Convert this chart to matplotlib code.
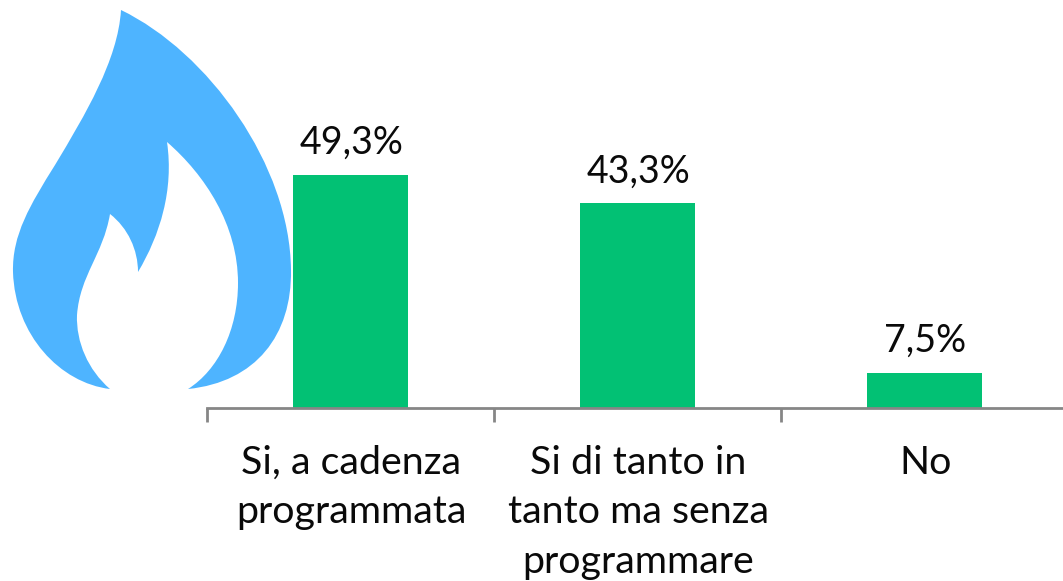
import matplotlib
matplotlib.use('Agg')
import matplotlib.pyplot as plt
from matplotlib.path import Path
from matplotlib.patches import PathPatch

categories = ['Si, a cadenza\nprogrammata', 'Si di tanto in\ntanto ma senza\nprogrammare', 'No']
values = [49.3, 43.3, 7.5]
labels = ['49,3%', '43,3%', '7,5%']
W, H = 1063, 581
plt.rcParams['font.family'] = ['Lato', 'DejaVu Sans']
fig = plt.figure(figsize=(W/100, H/100), dpi=100)
ax = fig.add_axes([207/W, 1-408/H, (1068-207)/W, (408-100)/H])
ax.bar(range(3), values, width=0.398, color='#02C174')
ax.set_xlim(-0.5, 2.5)
ax.set_ylim(0, 308/(233/49.3))
for s in ['top', 'right', 'left']:
    ax.spines[s].set_visible(False)
ax.spines['bottom'].set_color('#868686')
ax.spines['bottom'].set_linewidth(2)
ax.set_yticks([])
ax.set_xticks([-0.5, 0.5, 1.5, 2.5])
ax.set_xticklabels([])
ax.tick_params(axis='x', length=10, width=2, color='#868686', direction='out')
for i, (v, l, c) in enumerate(zip(values, labels, categories)):
    ax.annotate(l, (i, v), xytext=(0.5, 10), textcoords='offset points', ha='center', va='bottom', fontsize=27, color='#0A0A0A')
    ax.annotate(c, (i, 0), xytext=(0.5, -26.5), textcoords='offset points', ha='center', va='top', fontsize=28.4, color='#0A0A0A', linespacing=1.47)

ov = fig.add_axes([0, 0, 1, 1], facecolor='none')
ov.set_xlim(0, W); ov.set_ylim(H, 0); ov.axis('off')
M, C, Z = Path.MOVETO, Path.CURVE4, Path.CLOSEPOLY
verts = [(121, 10),
 (118, 60), (85, 115), (55, 165),
 (30, 205), (12, 235), (13, 272),
 (15, 335), (60, 383), (110, 389),
 (88, 370), (76, 342), (77, 315),
 (80, 275), (103, 255), (110, 214),
 (128, 228), (138, 250), (138, 272),
 (160, 235), (174, 190), (167, 142),
 (205, 175), (238, 225), (238, 283),
 (238, 330), (218, 370), (188, 389),
 (256, 382), (292, 335), (291, 270),
 (290, 165), (208, 52), (121, 10),
 (121, 10)]
codes = [M] + [C]*33 + [Z]
ov.add_patch(PathPatch(Path(verts, codes), facecolor='#4EB4FF', edgecolor='none'))
fig.savefig('out.png', dpi=100)
